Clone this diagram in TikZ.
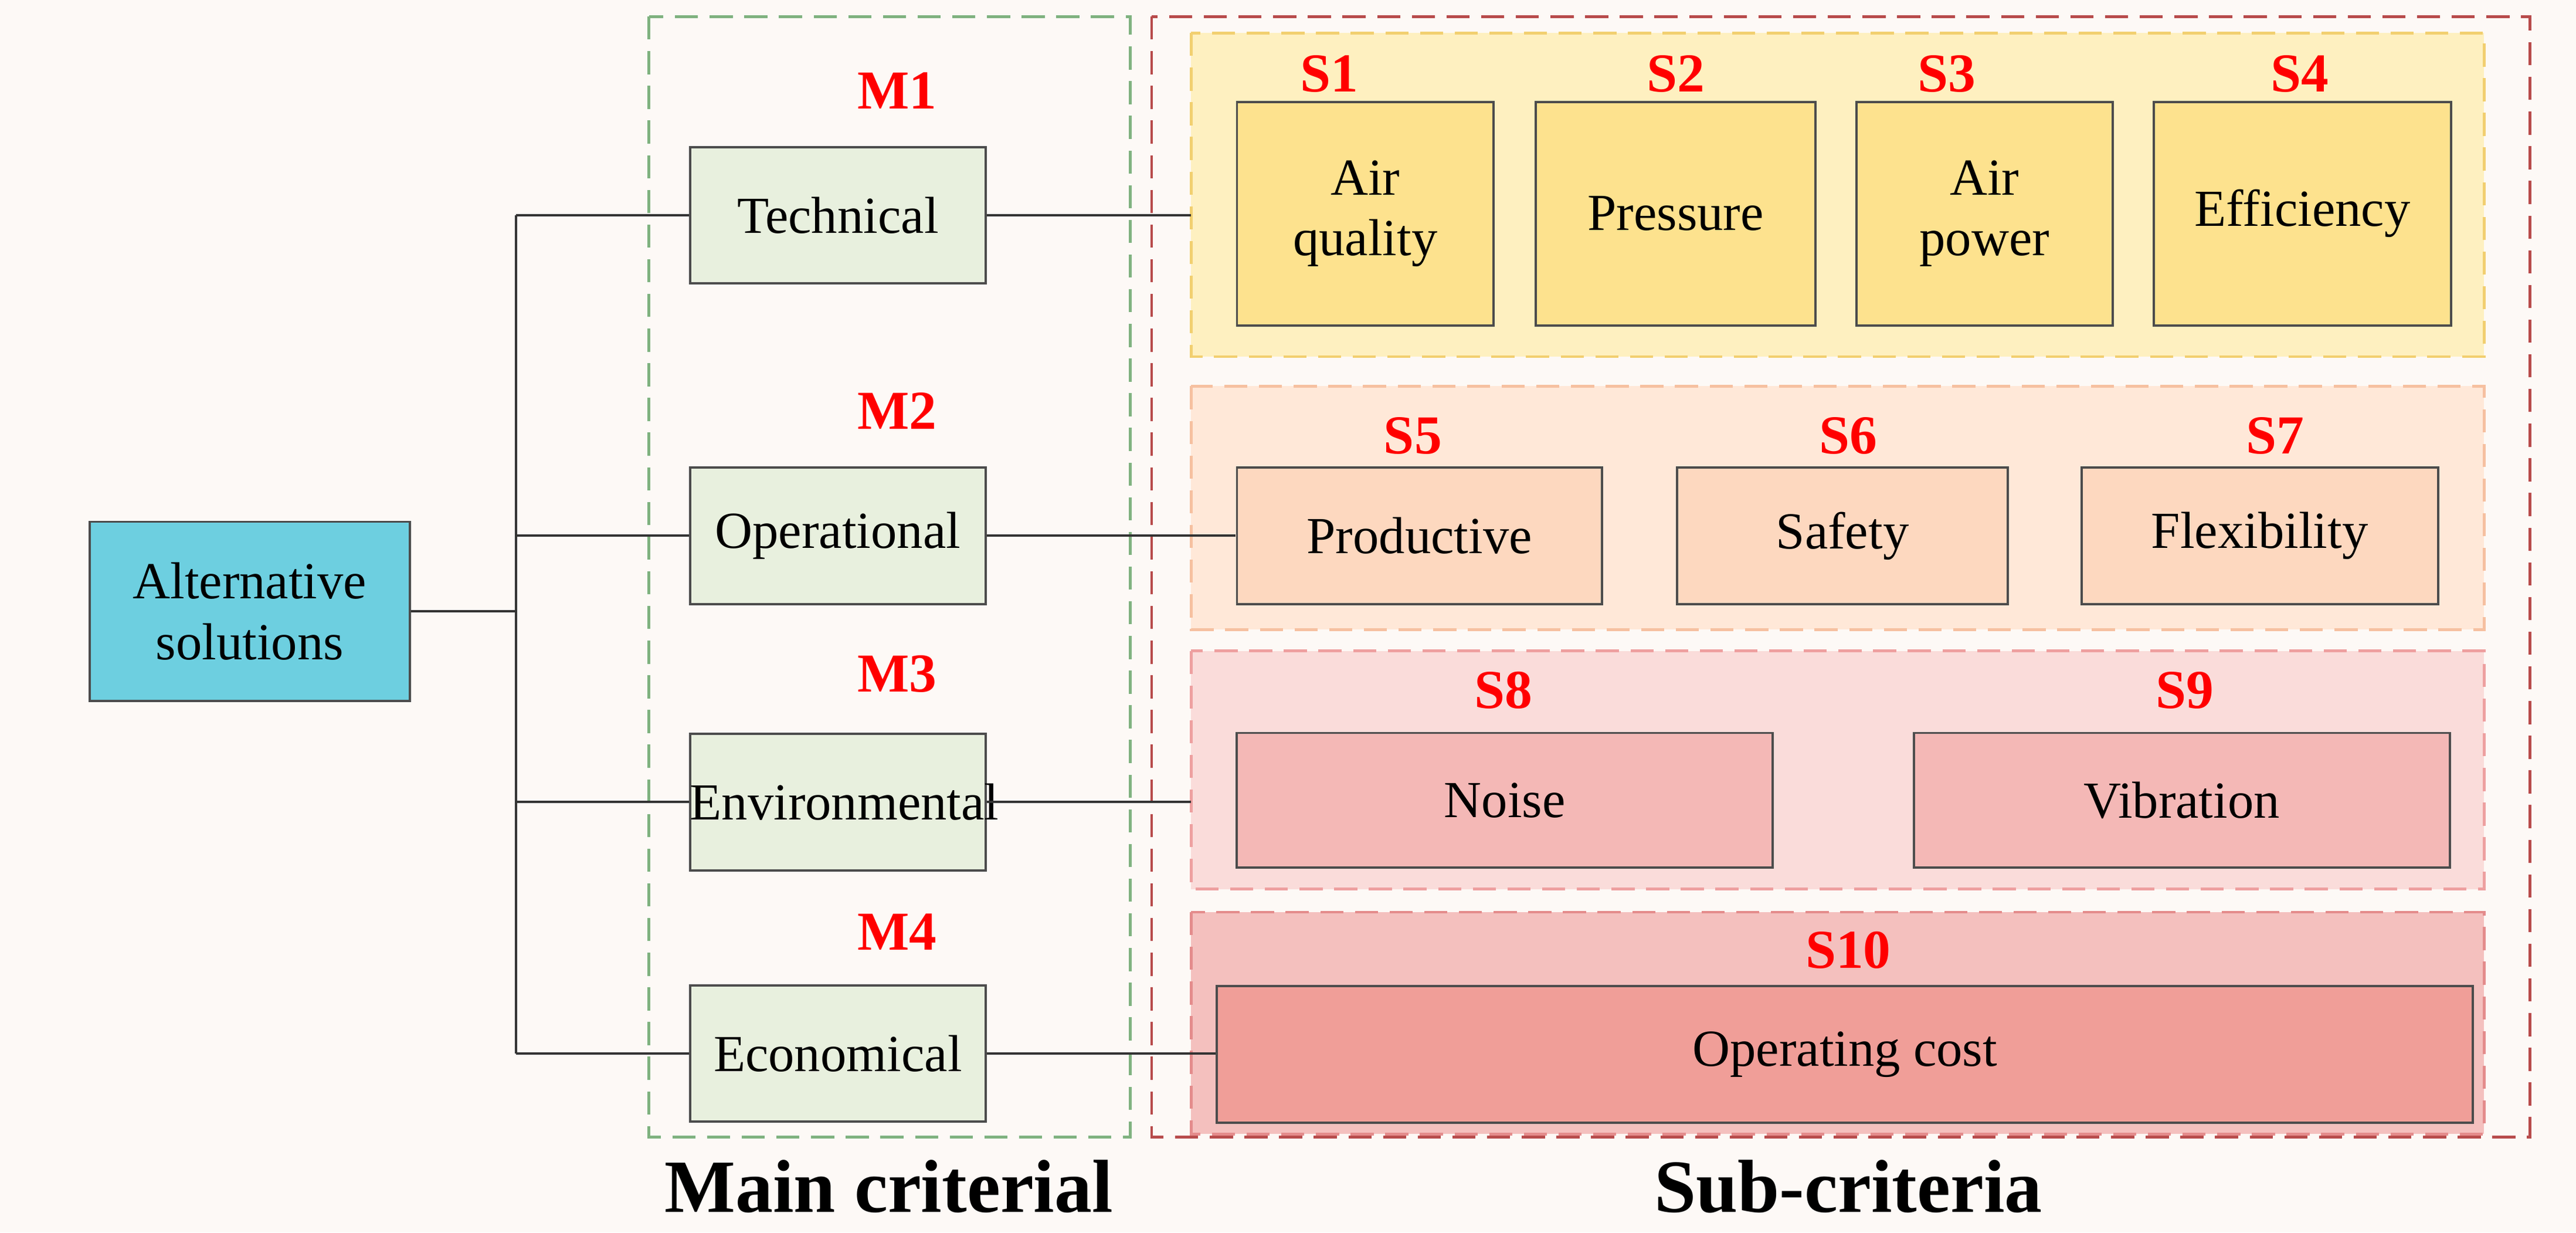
\documentclass[tikz,border=0pt]{standalone}
\usepackage{fontspec}
\setmainfont{Liberation Serif}
\definecolor{bg}{HTML}{FDF9F6}
\definecolor{altc}{HTML}{6DCFE0}
\definecolor{mainc}{HTML}{E8F0DE}
\definecolor{p1}{HTML}{FEF0C0}\definecolor{p1b}{HTML}{F2CF70}\definecolor{b1}{HTML}{FDE28E}
\definecolor{p2}{HTML}{FFE8D8}\definecolor{p2b}{HTML}{F6C0A0}\definecolor{b2}{HTML}{FDD8BF}
\definecolor{p3}{HTML}{FADCDA}\definecolor{p3b}{HTML}{EEA0A0}\definecolor{b3}{HTML}{F4B8B6}
\definecolor{p4}{HTML}{F4C0BE}\definecolor{p4b}{HTML}{E48C8C}\definecolor{b4}{HTML}{F09E98}
\begin{document}
\begin{tikzpicture}[x=0.01cm,y=-0.01cm,
 box/.style={draw=black!70,line width=0.4pt,inner sep=0pt,align=center,font=\fontsize{9}{10.5}\selectfont},
 lab/.style={text=red,font=\bfseries\fontsize{9.5}{10}\selectfont},
 panel/.style={dashed,line width=0.5pt,dash pattern=on 4pt off 2pt},
 con/.style={draw=black!80,line width=0.4pt}]
\fill[bg] (0,0) rectangle (1568,750);
\useasboundingbox (0,0) rectangle (1568,750);
\draw[panel,draw=green!40!black!50] (395,10) rectangle (688,692);
\draw[panel,draw=red!60!black!70] (701,10) rectangle (1540,692);
\draw[panel,draw=p1b,fill=p1] (725,20) rectangle (1512,217);
\draw[panel,draw=p2b,fill=p2] (725,235) rectangle (1512,383);
\draw[panel,draw=p3b,fill=p3] (725,396) rectangle (1512,541);
\draw[panel,draw=p4b,fill=p4] (725,555) rectangle (1512,690);
\node[box,fill=altc,minimum width=1.95cm,minimum height=1.09cm] (alt) at (152,372) {Alternative\\solutions};
\tikzset{mb/.style={box,fill=mainc,minimum width=1.8cm,minimum height=0.83cm,text width=1.8cm}}
\node[mb] (m1) at (510,131) {Technical};
\node[mb] (m2) at (510,326) {Operational};
\node[mb] (m3) at (510,488) {Environmental};
\node[mb] (m4) at (510,641) {Economical};
\node[lab] at (546,55) {M1};
\node[lab] at (546,250) {M2};
\node[lab] at (546,410) {M3};
\node[lab] at (546,567) {M4};
\coordinate (t1) at (314,131); \coordinate (t4) at (314,641);
\coordinate (t0) at (314,372);
\draw[con] (t1) -- (t4);
\draw[con] (alt) -- (t0);
\foreach \i/\y in {1/131,2/326,3/488,4/641}{\coordinate (tt\i) at (314,\y); \draw[con] (tt\i) -- (m\i);}
\tikzset{s1/.style={box,fill=b1,minimum height=1.36cm}}
\node[s1,minimum width=1.56cm] (s1) at (831,130) {Air\\quality};
\node[s1,minimum width=1.70cm] (s2) at (1020,130) {Pressure};
\node[s1,minimum width=1.56cm] (s3) at (1208,130) {Air\\power};
\node[s1,minimum width=1.81cm] (s4) at (1401.5,130) {Efficiency};
\node[lab] at (809,45) {S1};\node[lab] at (1020,45) {S2};\node[lab] at (1185,45) {S3};\node[lab] at (1400,45) {S4};
\tikzset{s2/.style={box,fill=b2,minimum height=0.83cm}}
\node[s2,minimum width=2.22cm] (s5) at (864,326) {Productive};
\node[s2,minimum width=2.01cm] (s6) at (1121.5,326) {Safety};
\node[s2,minimum width=2.17cm] (s7) at (1375.5,326) {Flexibility};
\node[lab] at (860,265) {S5};\node[lab] at (1125,265) {S6};\node[lab] at (1385,265) {S7};
\tikzset{s3/.style={box,fill=b3,minimum height=0.82cm,minimum width=3.26cm}}
\node[s3] (s8) at (916,487) {Noise};
\node[s3] (s9) at (1328,487) {Vibration};
\node[lab] at (915,420) {S8};\node[lab] at (1330,420) {S9};
\node[box,fill=b4,minimum height=0.83cm,minimum width=7.64cm] (s10) at (1123,641.5) {Operating cost};
\node[lab] at (1125,578) {S10};
\coordinate (c1) at (725,131); \coordinate (c2) at (752,326); \coordinate (c3) at (725,488); \coordinate (c4) at (740,641);
\foreach \i in {1,...,4}{\draw[con] (m\i) -- (c\i);}
\node[font=\bfseries\fontsize{13}{14}\selectfont] at (541,722) {Main criterial};
\node[font=\bfseries\fontsize{13}{14}\selectfont] at (1125,722) {Sub-criteria};
\end{tikzpicture}
\end{document}
